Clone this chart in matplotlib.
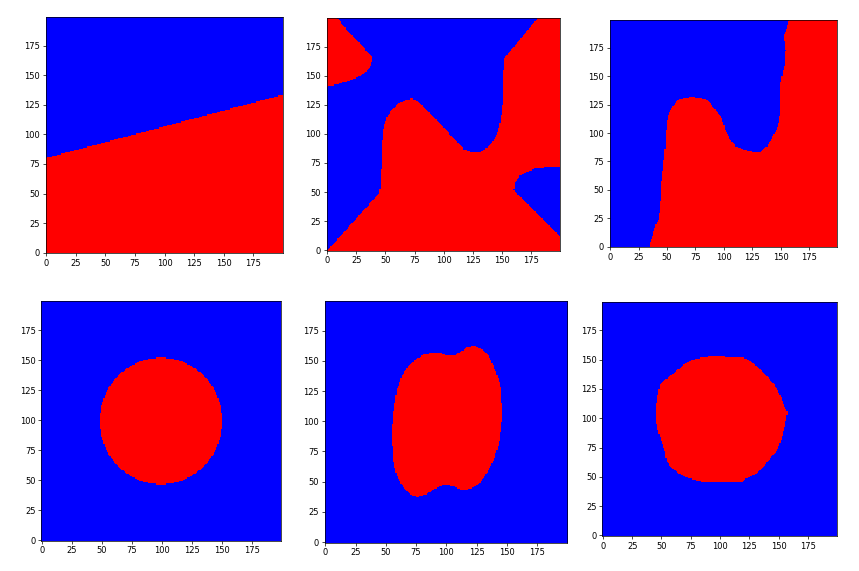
import numpy as np
import matplotlib
matplotlib.use("Agg")
import matplotlib.pyplot as plt
from matplotlib.path import Path
from matplotlib.colors import ListedColormap

GRID_N = 200
tick_values = [0, 25, 50, 75, 100, 125, 150, 175]

# Red-region boundaries (data coordinates, x, y)
p1_red = [(-1, -1), (-1, 79.5), (201, 133.5), (201, -1)]

p2_red_topleft = [(-1, 201), (7, 201), (16, 190), (25, 181), (33, 172), (37, 168),
                  (38.6, 165), (37.5, 159), (34, 154), (28, 149.5), (18, 145.5),
                  (8, 142.5), (0, 140.8), (-1, 140.8)]
p2_red_main = [(-1, -1), (44, 49), (45.5, 55), (46, 70), (46.5, 90), (48, 105),
               (51, 115), (55, 121), (60, 126), (66, 129), (73, 130.5), (78, 128),
               (90, 116), (105, 100), (117, 87), (125, 84), (131, 85), (137, 88),
               (142, 94), (146, 102), (148.5, 112), (150, 125), (150.5, 140),
               (151, 155), (151.5, 165), (160, 175), (170, 187), (181.5, 201),
               (201, 201), (201, 71), (186, 71), (178, 70), (171, 67.5), (165, 64),
               (161, 58), (160, 52), (163, 48), (168, 44), (180, 32), (190, 22),
               (201, 11), (201, -1)]

p3_red = [(33.5, -1), (34, 0), (37, 10), (39.5, 18), (42.5, 25), (44, 40), (45, 58),
          (47, 76), (48.5, 91), (49, 103), (50.5, 114), (54, 122), (58.5, 128),
          (63, 130), (72, 131.3), (79, 130.5), (85, 129), (89.5, 123.5), (94, 117.5),
          (98, 113), (101, 103), (105.5, 94), (110, 88), (117, 85), (126, 82.5),
          (132, 82.2), (138, 88), (143.5, 97), (147.5, 106), (149.5, 117),
          (149.5, 132), (149.5, 142), (151, 150), (153.5, 161), (154, 172),
          (152.5, 185), (155, 191), (158, 201), (201, 201), (201, -1)]

p4_center = (99.5, 99.5)
p4_radii = (51.0, 52.7)

p5_red = [(81, 155.4), (86.5, 156.2), (93.4, 156.7), (100.3, 154.3), (105.8, 154),
          (111.3, 157.6), (116.9, 161.7), (122.4, 162.3), (129.2, 159), (134.8, 153.4),
          (140.3, 141), (143.9, 130), (145.2, 113.4), (145, 99.6), (143, 83.1),
          (138.9, 69.3), (133.4, 58.3), (126.5, 48.6), (119.6, 44.5), (112.7, 43.1),
          (107.2, 45.8), (101.7, 47.2), (96.2, 47.2), (89.3, 43.9), (82.4, 39.5),
          (75.5, 37.6), (70, 39.5), (64.5, 44.5), (59, 54.1), (56.2, 63.8),
          (54.9, 80.3), (54.9, 96.9), (56.2, 110.7), (59, 127.2), (63.1, 138.3),
          (68.6, 146.5), (75.5, 152)]

p6_red = [(95.7, 152.6), (108.5, 151.7), (119.8, 151.1), (127, 147.7), (134.1, 141.2),
          (141.2, 134.1), (146.9, 127), (151.1, 119.8), (154, 111.3), (157.4, 104.2),
          (155.4, 94.2), (152.6, 82.9), (148.3, 71.5), (144, 67.2), (138.3, 60.1),
          (131.2, 53), (122.7, 48.7), (118.4, 45.3), (85.7, 45.3), (78.6, 47.3),
          (71.5, 49.3), (64.4, 53), (58.7, 57.8), (54.4, 63), (53, 71.5), (50.1, 80),
          (47.3, 88.5), (45.3, 97.1), (45.3, 105.6), (46.4, 117), (48.7, 128.4),
          (51.6, 131.2), (57.3, 135.5), (61.5, 139.2), (65.8, 142.6), (71.5, 146.9),
          (77.2, 149.7), (85.7, 151.7)]

# axes boxes in pixels: left, top, right, bottom
ax_boxes = [(45.5, 16.7, 282.5, 253.3), (326.7, 18.3, 559.5, 250.7),
            (609.7, 20.0, 836.7, 247.3), (41.3, 301.0, 281.0, 540.7),
            (324.7, 301.0, 566.7, 542.7), (602.3, 301.7, 836.7, 536.0)]

W, H = 859, 571
yy, xx = np.mgrid[0:GRID_N, 0:GRID_N]
pts = np.column_stack([xx.ravel(), yy.ravel()])


def poly_mask(*polys):
    m = np.zeros(GRID_N * GRID_N, dtype=bool)
    for p in polys:
        m |= Path(p).contains_points(pts)
    return m.reshape(GRID_N, GRID_N)


masks = [
    poly_mask(p1_red),
    poly_mask(p2_red_topleft, p2_red_main),
    poly_mask(p3_red),
    ((xx - p4_center[0]) / p4_radii[0]) ** 2 + ((yy - p4_center[1]) / p4_radii[1]) ** 2 <= 1,
    poly_mask(p5_red),
    poly_mask(p6_red),
]

cmap = ListedColormap(["#0000ff", "#ff0000"])
fig = plt.figure(figsize=(W / 100, H / 100), dpi=100)
for (l, t, r, b), m in zip(ax_boxes, masks):
    ax = fig.add_axes([l / W, 1 - b / H, (r - l) / W, (b - t) / H])
    ax.imshow(m.astype(int), cmap=cmap, vmin=0, vmax=1, origin="lower",
              interpolation="nearest", aspect="auto")
    ax.set_xticks(tick_values)
    ax.set_yticks(tick_values)
    ax.tick_params(labelsize=6, length=2.1, width=0.5, pad=2)
    for s in ax.spines.values():
        s.set_linewidth(0.5)

fig.savefig("out.png", dpi=100)
